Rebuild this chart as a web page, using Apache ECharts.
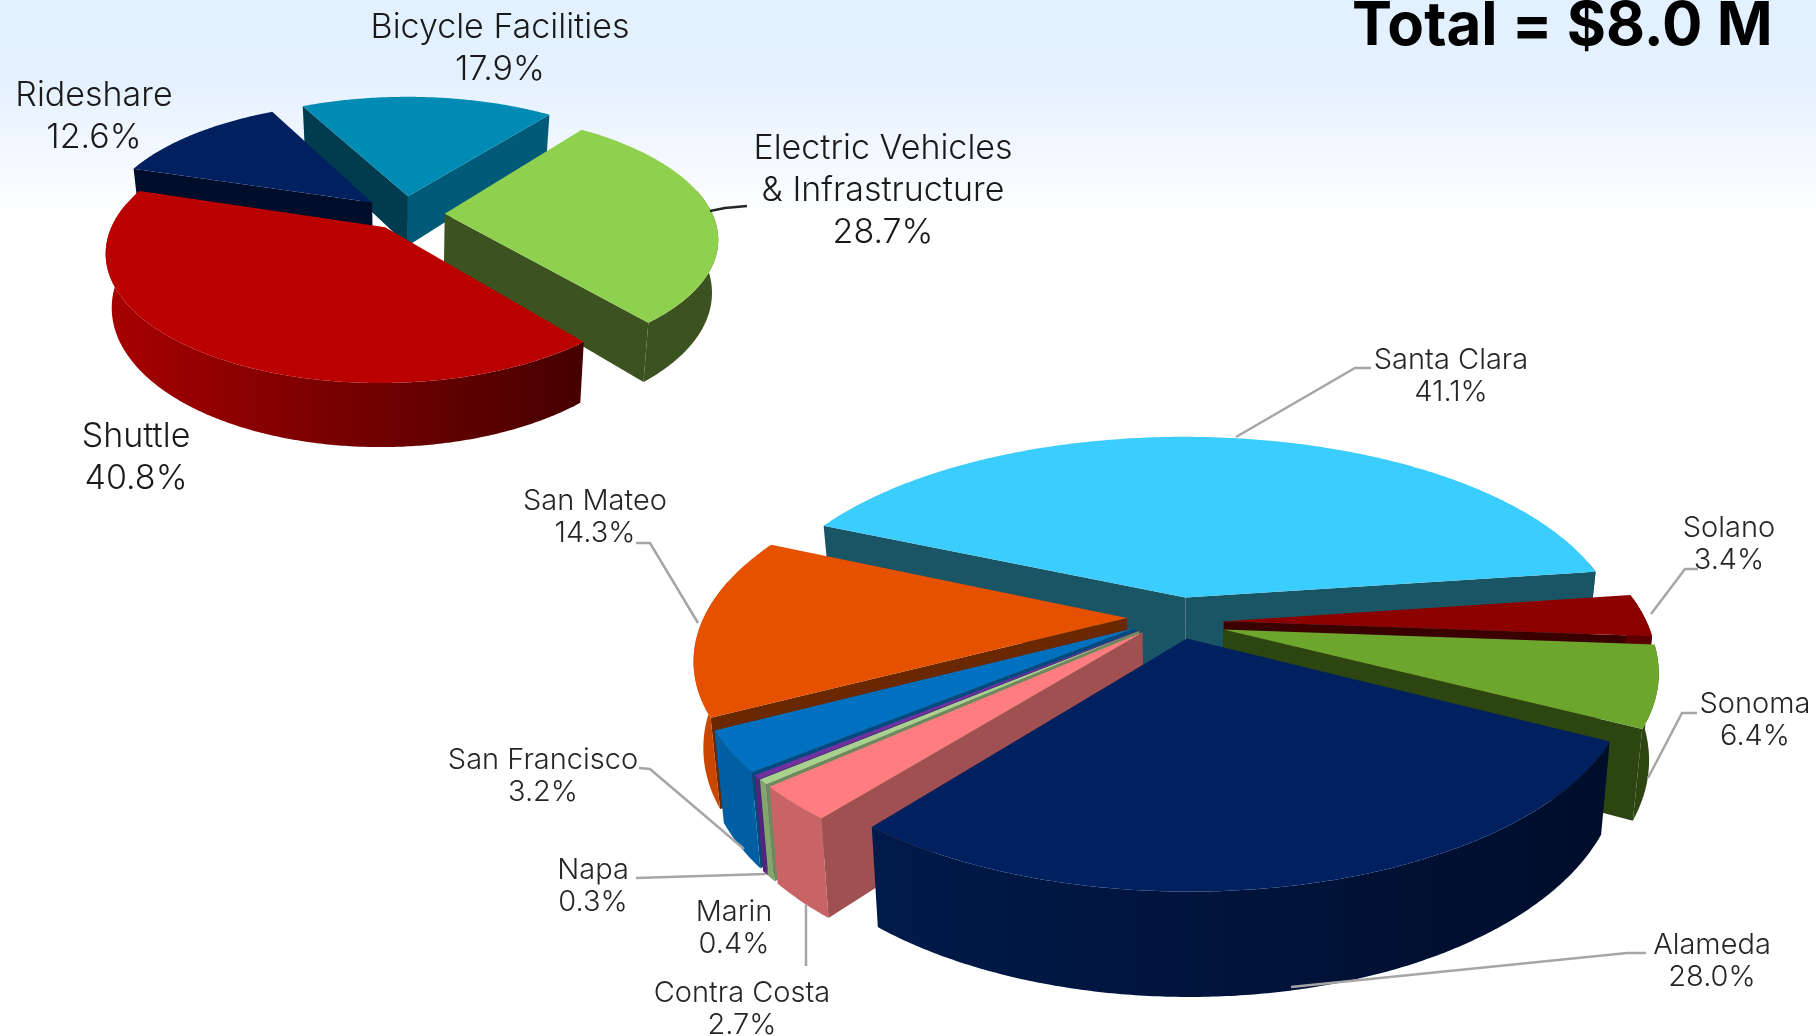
<!DOCTYPE html>
<html>
<head>
<meta charset="utf-8">
<style>
  html, body { margin: 0; padding: 0; background: #fff; }
  #chart { width: 1816px; height: 1036px; }
</style>
</head>
<body>
<div id="chart"></div>
<script src="https://cdn.jsdelivr.net/npm/echarts@6/dist/echarts.min.js"></script>
<script>
// 上面的饼图：按类别
const typeNames = ['Electric Vehicles\n& Infrastructure', 'Shuttle', 'Rideshare', 'Bicycle Facilities']
const typeValues = [28.7, 40.8, 12.6, 17.9]

// 下面的饼图：按县
const countyNames = ['Santa Clara', 'Solano', 'Sonoma', 'Alameda', 'Contra Costa', 'Marin', 'Napa', 'San Francisco', 'San Mateo']
const countyValues = [41.1, 3.4, 6.4, 28.0, 2.7, 0.4, 0.3, 3.2, 14.3]

const totalText = 'Total = $8.0 M'

// 样式和位置单独放，top 顶面 / face 切面（起边、止边）/ wall 外壁（左右渐变）
// explode 分离量，radius 半径系数，nudge 每块微调（像素）
const typeStyle = {
  cx: 405, cy: 214, R: 265, Rk: 120, h: 51, persp: 0.18, startAngle: 37.4, fontSize: 34, lineGap: 42, textColor: '#1a1a1a',
  top: ['#8FD14F', '#BB0000', '#002060', '#008BB4'],
  face: [['#3C5220', '#3C5220'], ['#4A0000', '#4A0000'], ['#000D2B', '#000D2B'], ['#003C4D', '#005A78']],
  wall: [['#3C5220', '#3C5220'], ['#A80000', '#450000'], ['#000D2B', '#000D2B'], ['#005A78', '#005A78']],
  explode: [0.15, 0.15, 0.15, 0.17],
  radius: [1.01, 1.01, 1.02, 1.04],
  nudge: [[0, 0], [3, -2], [-3, 0], [-1, 2]],
  labels: [[883, 149], [136, 437], [94, 96], [500, 28]],
  lines: [[[710, 211], [725, 208], [747, 206]], null, null, null]
}
const countyStyle = {
  cx: 1178, cy: 615, R: 423, Rk: 195, h: 83, persp: 0.19, startAngle: 293.8, fontSize: 29, lineGap: 32.5, textColor: '#262626',
  top: ['#3ACDFD', '#8C0000', '#6CA62C', '#002060', '#FF7C80', '#A9D18E', '#7030A0', '#0070C0', '#E65100'],
  face: [['#1A5566', '#1A5566'], ['#3A0000', '#3A0000'], ['#2D4510', '#2D4510'], ['#000D2B', '#000D2B'], ['#A05050', '#A05050'], ['#6E8A5C', '#6E8A5C'], ['#4A2069', '#4A2069'], ['#004A80', '#004A80'], ['#692800', '#692800']],
  wall: [['#1A5566', '#1A5566'], ['#5A0000', '#5A0000'], ['#2D4510', '#2D4510'], ['#001A4A', '#000D2B'], ['#C86466', '#C86466'], ['#85A56F', '#85A56F'], ['#55247A', '#55247A'], ['#005FA3', '#005FA3'], ['#C94700', '#C94700']],
  explode: [0.13, 0.12, 0.12, 0.12, 0.12, 0.12, 0.12, 0.12, 0.13],
  radius: [1.03, 1, 1, 1, 1, 1, 1, 1, 1],
  nudge: [[0, 7], [-5, 7], [-4, 8], [-2, 0], [0, 0], [0, 0], [0, 0], [0, 0], [4, 2]],
  labels: [[1451, 360], [1729, 528], [1755, 704], [1712, 945], [742, 993], [734, 912], [593, 870], [543, 760], [595, 501]],
  lines: [
    [[1236, 437], [1355, 368], [1371, 368]],
    [[1651, 614], [1685, 569], [1698, 569]],
    [[1648, 778], [1682, 713], [1697, 713]],
    [[1291, 987], [1627, 953], [1646, 953]],
    [[806, 904], [806, 966]],
    null,
    [[766, 874], [636, 878]],
    [[744, 849], [650, 769], [639, 768]],
    [[698, 623], [650, 543], [636, 543]]
  ]
}

const rad = (d) => (d * Math.PI) / 180

// 算出每块的起止角度
const buildAngles = (values, startAngle) => {
  const sum = values.reduce((a, b) => a + b, 0)
  let cur = startAngle
  return values.map((v) => {
    const from = cur
    cur += (v / sum) * 360
    return [from, cur]
  })
}

// 带透视的投影，r=0 时就是扇形的尖，bottom=true 时是底面
const project = (st, i, ex, ey, r, th, bottom) => {
  const x = ex + r * Math.sin(rad(th))
  const z = ey + r * Math.cos(rad(th))
  const s = 1 / (1 + st.persp * z)
  return [
    st.cx + st.nudge[i][0] + st.R * x * s * (bottom ? 0.98 : 1),
    st.cy + st.nudge[i][1] - st.Rk * z * s + (bottom ? st.h * s : 0)
  ]
}

const sidePaint = (pts, pair) => {
  const xs = pts.map((p) => p[0])
  return {
    type: 'linear', global: true,
    x: Math.min(...xs), y: 0, x2: Math.max(...xs), y2: 0,
    colorStops: [{ offset: 0, color: pair[0] }, { offset: 1, color: pair[1] }]
  }
}

const makeRender = (names, values, st) => {
  const angles = buildAngles(values, st.startAngle)
  // 后面的先画
  const order = angles
    .map((a, i) => ({ i, depth: Math.cos(rad((a[0] + a[1]) / 2)) }))
    .sort((p, q) => q.depth - p.depth)
    .map((p) => p.i)

  return (params, api) => {
    const i = params.dataIndex
    const value = api.value(0)
    const [from, to] = angles[i]
    const mid = (from + to) / 2
    const ex = st.explode[i] * Math.sin(rad(mid))
    const ey = st.explode[i] * Math.cos(rad(mid))
    const r = st.radius[i]
    const base = order.indexOf(i) * 10 + 1
    const children = []

    const apexTop = project(st, i, ex, ey, 0, 0, false)
    const apexBot = project(st, i, ex, ey, 0, 0, true)

    const rimTop = []
    for (let a = from; a < to; a += 0.5) rimTop.push(project(st, i, ex, ey, r, a, false))
    rimTop.push(project(st, i, ex, ey, r, to, false))

    // 切面，只画朝外的
    const startTop = rimTop[0]
    const endTop = rimTop[rimTop.length - 1]
    if (startTop[0] < apexTop[0]) {
      const pts = [apexTop, startTop, project(st, i, ex, ey, r, from, true), apexBot]
      children.push({ type: 'polygon', z2: base, shape: { points: pts }, style: { fill: st.face[i][0] } })
    }
    if (endTop[0] > apexTop[0]) {
      const pts = [apexTop, endTop, project(st, i, ex, ey, r, to, true), apexBot]
      children.push({ type: 'polygon', z2: base, shape: { points: pts }, style: { fill: st.face[i][1] } })
    }

    // 外壁，只画朝前的一段
    const front = []
    for (let a = from; a < to; a += 0.5) {
      if (Math.cos(rad(a)) < 0.2) front.push(a)
    }
    if (Math.cos(rad(to)) < 0.2) front.push(to)
    if (front.length > 1) {
      const up = front.map((a) => project(st, i, ex, ey, r, a, false))
      const down = front.map((a) => project(st, i, ex, ey, r, a, true)).reverse()
      const pts = up.concat(down)
      children.push({ type: 'polygon', z2: base + 1, shape: { points: pts }, style: { fill: sidePaint(pts, st.wall[i]) } })
    }

    // 顶面
    children.push({
      type: 'polygon', z2: base + 2,
      shape: { points: [apexTop].concat(rimTop) },
      style: { fill: st.top[i] }
    })

    // 引线
    if (st.lines[i]) {
      children.push({
        type: 'polyline', z2: 500,
        shape: { points: st.lines[i] },
        style: { stroke: st.lines === typeStyle.lines ? '#262626' : '#A6A6A6', lineWidth: 2.5, fill: null }
      })
    }

    // 标签
    const [lx, ly] = st.labels[i]
    const text = names[i] + '\n' + value.toFixed(1) + '%'
    text.split('\n').forEach((line, k) => {
      children.push({
        type: 'text', z2: 600,
        style: {
          text: line, x: lx, y: ly + k * st.lineGap,
          align: 'center', verticalAlign: 'middle',
          fontFamily: 'Inter', fontWeight: 300, fontSize: st.fontSize, fill: st.textColor
        }
      })
    })

    return { type: 'group', children }
  }
}

const chart = echarts.init(document.getElementById('chart'))
chart.setOption({
  animation: false,
  backgroundColor: {
    type: 'linear', x: 0, y: 0, x2: 0, y2: 1,
    colorStops: [
      { offset: 0, color: '#E2F0FF' },
      { offset: 0.08, color: '#E5F1FF' },
      { offset: 0.21, color: '#FFFFFF' },
      { offset: 1, color: '#FFFFFF' }
    ]
  },
  title: {
    text: totalText,
    left: 1347,
    top: -8,
    textStyle: { fontFamily: 'Inter', fontWeight: 'bold', fontSize: 60, color: '#000' }
  },
  series: [
    {
      type: 'custom', coordinateSystem: 'none', silent: true,
      data: typeValues.map((v) => [v]),
      renderItem: makeRender(typeNames, typeValues, typeStyle)
    },
    {
      type: 'custom', coordinateSystem: 'none', silent: true,
      data: countyValues.map((v) => [v]),
      renderItem: makeRender(countyNames, countyValues, countyStyle)
    }
  ]
})
</script>
</body>
</html>
